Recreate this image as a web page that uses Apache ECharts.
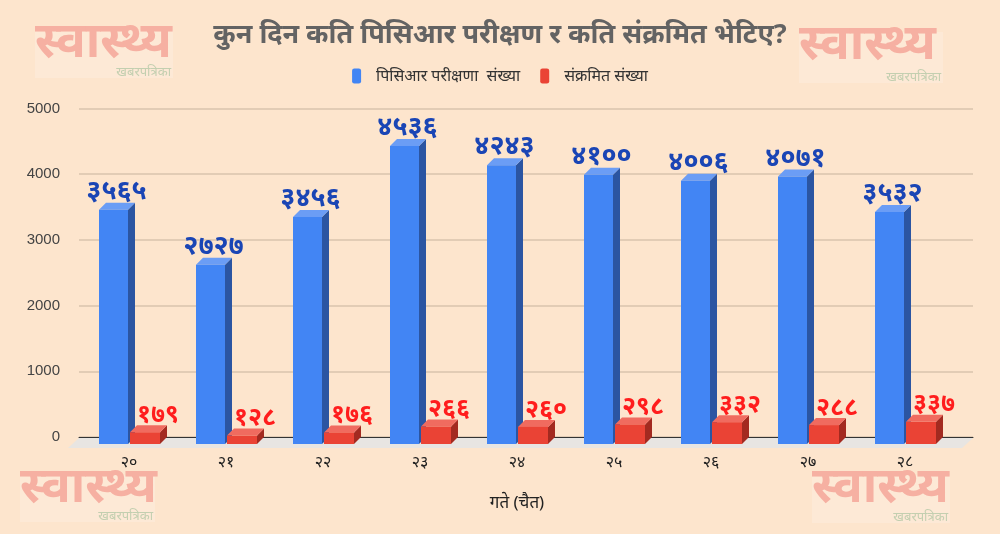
<!DOCTYPE html>
<html>
<head>
<meta charset="utf-8">
<script src="https://cdn.jsdelivr.net/npm/echarts@6/dist/echarts.min.js"></script>
<style>
  html, body { margin: 0; padding: 0; background: #fde5cd; }
  #chart { width: 1000px; height: 534px; }
</style>
</head>
<body>
<div id="chart"></div>
<script>
  // data
  const days = ['२०', '२१', '२२', '२३', '२४', '२५', '२६', '२७', '२८'];
  const pcrTests = [3565, 2727, 3456, 4536, 4243, 4100, 4006, 4071, 3532];
  const infected = [179, 128, 176, 266, 260, 298, 332, 288, 337];
  const seriesNames = ['पिसिआर परीक्षणा  संख्या', 'संक्रमित संख्या'];

  const FONT = '"Noto Sans", "Noto Sans Devanagari", sans-serif';
  const DEPTH = 7;
  const devDigits = '०१२३४५६७८९';
  const toDev = (n) => String(n).replace(/\d/g, (d) => devDigits[d]);

  // fake 3d box: front face + right side + top
  function bar3d(offsetLeft, width, colors, labelColor, labelShift, labelSize) {
    return function (params, api) {
      const v = api.value(1);
      const top = api.coord([api.value(0), v]);
      const base = api.coord([api.value(0), 0]);
      const x0 = top[0] + offsetLeft;
      const x1 = x0 + width;
      const yt = top[1] + DEPTH;
      const yb = base[1] + DEPTH;
      return {
        type: 'group',
        children: [
          {
            type: 'polygon',
            shape: { points: [[x1, yt], [x1 + DEPTH, yt - DEPTH], [x1 + DEPTH, yb - DEPTH], [x1, yb]] },
            style: { fill: colors.side }
          },
          {
            type: 'polygon',
            shape: { points: [[x0, yt], [x0 + DEPTH, yt - DEPTH], [x1 + DEPTH, yt - DEPTH], [x1, yt]] },
            style: { fill: colors.top }
          },
          {
            type: 'rect',
            shape: { x: x0, y: yt, width: width, height: yb - yt },
            style: { fill: colors.front }
          },
          {
            type: 'text',
            x: (x0 + x1) / 2 + labelShift,
            y: top[1] + 2,
            style: {
              text: toDev(v),
              fill: labelColor,
              font: 'bold ' + labelSize + 'px ' + FONT,
              align: 'center',
              verticalAlign: 'bottom'
            }
          }
        ]
      };
    };
  }

  // watermark logo (approximation of the image)
  function logo(x, y, w, h) {
    return {
      type: 'group',
      x: x,
      y: y,
      z: 0,
      children: [
        { type: 'rect', shape: { x: 0, y: 0, width: w, height: h }, style: { fill: 'rgba(255,255,255,0.18)' } },
        {
          type: 'text', x: 0, y: -12, scaleX: 1.3, scaleY: 1.3,
          style: { text: 'स्वास्थ्य', fill: '#f6b0a2', font: 'bold 38px ' + FONT }
        },
        {
          type: 'text', x: w - 2, y: h + 1,
          style: { text: 'खबरपत्रिका', fill: '#c3cfb0', font: '13px ' + FONT, align: 'right', verticalAlign: 'bottom' }
        }
      ]
    };
  }

  const chart = echarts.init(document.getElementById('chart'));

  const option = {
    backgroundColor: '#fde5cd',
    animation: false,
    title: {
      text: 'कुन दिन कति पिसिआर परीक्षण र कति संक्रमित भेटिए?',
      left: 'center',
      top: 17,
      textStyle: { color: '#636363', fontSize: 27, fontWeight: 'bold', fontFamily: FONT }
    },
    legend: {
      top: 63,
      left: 'center',
      itemWidth: 9,
      itemHeight: 15,
      itemGap: 20,
      icon: 'roundRect',
      textStyle: { color: '#333', fontSize: 16, fontFamily: FONT, padding: [0, 0, 0, 10] },
      data: seriesNames
    },
    grid: [
      { left: 80.5, right: 46.5, top: 108.5, bottom: 97 },
      { left: 79, right: 27, top: 108.5, bottom: 97 }
    ],
    xAxis: [
      {
        type: 'category',
        gridIndex: 0,
        data: days,
        axisLine: { show: false },
        axisTick: { show: false },
        axisLabel: { color: '#222', fontSize: 16, margin: 17, fontFamily: FONT },
        name: 'गते (चैत)',
        nameLocation: 'middle',
        nameGap: 58,
        nameTextStyle: { color: '#222', fontSize: 17, fontFamily: FONT }
      },
      {
        type: 'value',
        gridIndex: 1,
        min: 0,
        max: 1,
        axisLine: { show: true, lineStyle: { color: '#333', width: 1 } },
        axisTick: { show: false },
        axisLabel: { show: false },
        splitLine: { show: false }
      }
    ],
    yAxis: [
      { type: 'value', gridIndex: 0, min: 0, max: 5000, interval: 1000, show: false },
      {
        type: 'value',
        gridIndex: 1,
        min: 0,
        max: 5000,
        interval: 1000,
        axisLine: { show: false },
        axisTick: { show: false },
        axisLabel: {
          color: '#444',
          fontSize: 15,
          margin: 19,
          fontFamily: '"Liberation Sans", Arial, sans-serif',
          formatter: (v) => String(v)
        },
        splitLine: { lineStyle: { color: '#d8c3ad', width: 1.5 } }
      }
    ],
    graphic: [
      {
        type: 'polygon',
        z: 1,
        shape: { points: [[79, 438], [973, 438], [962, 448], [68, 448]] },
        style: { fill: '#e8e5e2' }
      },
      logo(35, 30, 138, 48),
      logo(799, 32, 144, 51),
      logo(20, 475, 135, 47),
      logo(812, 475, 138, 48)
    ],
    series: [
      {
        name: seriesNames[0],
        type: 'custom',
        xAxisIndex: 0,
        yAxisIndex: 0,
        z: 3,
        itemStyle: { color: '#4285f4' },
        renderItem: bar3d(-30, 29, { front: '#4285f4', side: '#2b55a2', top: '#6b9df5' }, '#1a45b5', 3, 27),
        encode: { x: 0, y: 1 },
        data: pcrTests.map((v, i) => [i, v])
      },
      {
        name: seriesNames[1],
        type: 'custom',
        xAxisIndex: 0,
        yAxisIndex: 0,
        z: 4,
        itemStyle: { color: '#ea4335' },
        renderItem: bar3d(1, 30, { front: '#ea4335', side: '#a32a20', top: '#f06b5f' }, '#ff1d1d', 13, 25),
        encode: { x: 0, y: 1 },
        data: infected.map((v, i) => [i, v])
      }
    ]
  };

  chart.setOption(option);
  window.addEventListener('resize', () => chart.resize());
</script>
</body>
</html>
